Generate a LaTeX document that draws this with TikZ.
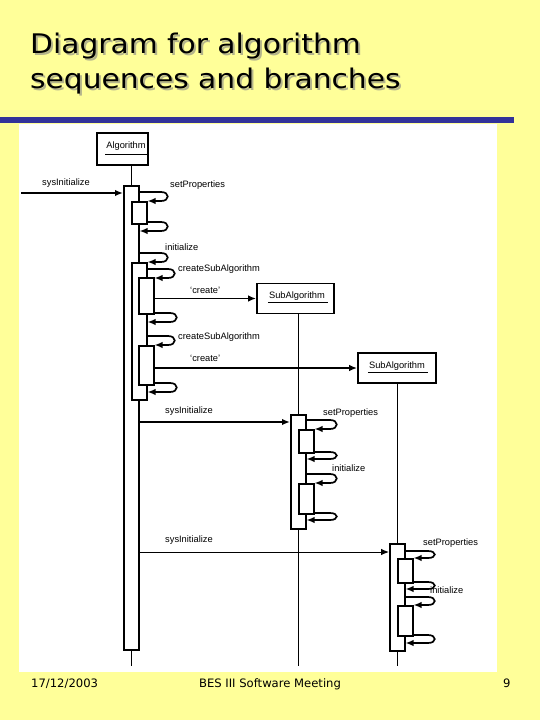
\documentclass[tikz,border=0pt]{standalone}
\usepackage{fontspec}
\setmainfont{Liberation Sans}
\newfontfamily\titlefont[FakeStretch=1.1]{DejaVu Sans}
\newfontfamily\footfont{DejaVu Sans}
\usetikzlibrary{arrows.meta,calc}
\definecolor{slidebg}{HTML}{FFFF99}
\definecolor{rulebl}{HTML}{333399}
\definecolor{shadowc}{HTML}{B4B48C}
\newcommand\selfmsg[5]{%
  \coordinate (ytop) at (0,#2);
  \coordinate (ybot) at (0,#4);
  \coordinate (xr) at (#5,0);
  \draw[selfcall] (#1.east |- ytop) -- (xr |- ytop)
    .. controls ($(xr |- ytop)+(9,0)$) and ($(xr |- ybot)+(9,0)$) .. (xr |- ybot)
    -- (#3.east |- ybot);
}
\begin{document}
\begin{tikzpicture}[x=1pt,y=-1pt,
  lbl/.style={font=\fontsize{9.3}{10}\selectfont, inner sep=0pt, anchor=west},
  objbox/.style={draw, line width=1.7pt, fill=white, inner sep=0pt},
  actbar/.style={draw, line width=1.5pt, fill=white, inner sep=0pt, minimum width=15pt, anchor=north west},
  lifeline/.style={line width=1.3pt},
  msg/.style={line width=1.6pt, -{Latex[length=8pt,width=6.5pt]}},
  thinmsg/.style={line width=0.9pt, -{Latex[length=8pt,width=6.5pt]}},
  selfcall/.style={line width=1.7pt, -{Latex[length=8pt,width=6.5pt]}},
  uline/.style={line width=1.8pt},
  titletxt/.style={font=\titlefont\fontsize{27}{31}\selectfont, inner sep=0pt, anchor=base west},
  foottxt/.style={font=\footfont\fontsize{11.6}{13}\selectfont, inner sep=0pt, anchor=base}
]
\useasboundingbox (0,0) rectangle (540,720);
\fill[slidebg] (0,0) rectangle (540,720);
% title
\node[titletxt, text=shadowc] (t1s) at (32,55) {Diagram for algorithm};
\node[titletxt, text=shadowc] (t2s) at (32,90) {sequences and branches};
\node[titletxt] (t1) at (30,53) {Diagram for algorithm};
\node[titletxt] (t2) at (30,88) {sequences and branches};
\fill[rulebl] (0,117) rectangle (514,123);
\fill[white] (19,124) rectangle (497,672);
% footer
\node[foottxt, anchor=base west] (date) at (31,687) {17/12/2003};
\node[foottxt] (meet) at (270,687) {BES III Software Meeting};
\node[foottxt, anchor=base west] (pg) at (503,687) {9};

% objects
\node[objbox, minimum width=51pt, minimum height=32pt] (Alg) at (122.5,149) {};
\node[objbox, minimum width=77pt, minimum height=30pt] (Sub1) at (295.5,298.5) {};
\node[objbox, minimum width=78pt, minimum height=30pt] (Sub2) at (397,368) {};
\node[lbl, anchor=center] (AlgT) at (126,146) {Algorithm};
\node[lbl, anchor=center] (Sub1T) at (297,296) {SubAlgorithm};
\node[lbl, anchor=center] (Sub2T) at (397,366) {SubAlgorithm};
\draw[uline] ($(AlgT.south west)+(-1,4)$) -- ($(AlgT.south east)+(1,4)$);
\draw[uline] ($(Sub1T.south west)+(-1,2)$) -- ($(Sub1T.south east)+(3,2)$);
\draw[uline] ($(Sub2T.south west)+(-1,2)$) -- ($(Sub2T.south east)+(3,2)$);

% activation bars
\node[actbar, minimum height=464pt] (A0) at (123,185) {};
\node[actbar, minimum height=137pt] (A2) at (131,262) {};
\node[actbar, minimum height=22pt] (A1) at (131,201) {};
\node[actbar, minimum height=36pt] (A3) at (138,277) {};
\node[actbar, minimum height=39pt] (A4) at (138,345) {};
\node[actbar, minimum height=114pt] (B0) at (290,414) {};
\node[actbar, minimum height=23pt] (B1) at (298,429) {};
\node[actbar, minimum height=30pt] (B2) at (298,483) {};
\node[actbar, minimum height=107pt] (C0) at (389,543) {};
\node[actbar, minimum height=24pt] (C1) at (397,558) {};
\node[actbar, minimum height=30pt] (C2) at (397,605) {};

% lifelines
\coordinate (bottomline) at (0,666);
\draw[lifeline] (A0.north |- Alg.south) -- (A0.north);
\draw[lifeline] (A0.south) -- (A0.south |- bottomline);
\draw[lifeline] (B0.north |- Sub1.south) -- (B0.north);
\draw[lifeline] (B0.south) -- (B0.south |- bottomline);
\draw[lifeline] (C0.north |- Sub2.south) -- (C0.north);
\draw[lifeline] (C0.south) -- (C0.south |- bottomline);

% messages
\coordinate (start1) at (21,193);
\coordinate (m2) at (0,422);
\coordinate (m3) at (0,552);
\draw[msg] (start1) -- (A0.west |- start1);
\draw[msg] (A3.east |- Sub1.west) -- (Sub1.west);
\draw[msg] (A4.east |- Sub2.west) -- (Sub2.west);
\draw[msg] (A0.east |- m2) -- (B0.west |- m2);
\draw[thinmsg] (A0.east |- m3) -- (C0.west |- m3);

% self calls
\selfmsg{A0}{192}{A1}{201}{161}
\selfmsg{A1}{222}{A0}{231}{161}
\selfmsg{A0}{253}{A2}{262}{161}
\selfmsg{A2}{269}{A3}{278}{168}
\selfmsg{A3}{313}{A2}{322}{170}
\selfmsg{A2}{336}{A4}{345}{168}
\selfmsg{A4}{383}{A2}{392}{170}
\selfmsg{B0}{420}{B1}{429}{330}
\selfmsg{B1}{452}{B0}{459}{330}
\selfmsg{B0}{474}{B2}{483}{330}
\selfmsg{B2}{513}{B0}{520}{330}
\selfmsg{C0}{551}{C1}{558}{428}
\selfmsg{C1}{582}{C0}{589}{428}
\selfmsg{C0}{597}{C2}{605}{428}
\selfmsg{C2}{635}{C0}{643}{428}

% labels
\node[lbl] (l1) at (42,183) {sysInitialize};
\node[lbl] (l2) at (170,185) {setProperties};
\node[lbl] (l3) at (165,247) {initialize};
\node[lbl] (l4) at (178,269) {createSubAlgorithm};
\node[lbl] (l5) at (190,290) {`create'};
\node[lbl] (l6) at (178,337) {createSubAlgorithm};
\node[lbl] (l7) at (190,358) {`create'};
\node[lbl] (l8) at (165,411) {sysInitialize};
\node[lbl] (l9) at (323,413) {setProperties};
\node[lbl] (l10) at (332,468) {initialize};
\node[lbl] (l11) at (165,540) {sysInitialize};
\node[lbl] (l12) at (423,543) {setProperties};
\node[lbl] (l13) at (430,590) {initialize};
\end{tikzpicture}
\end{document}
